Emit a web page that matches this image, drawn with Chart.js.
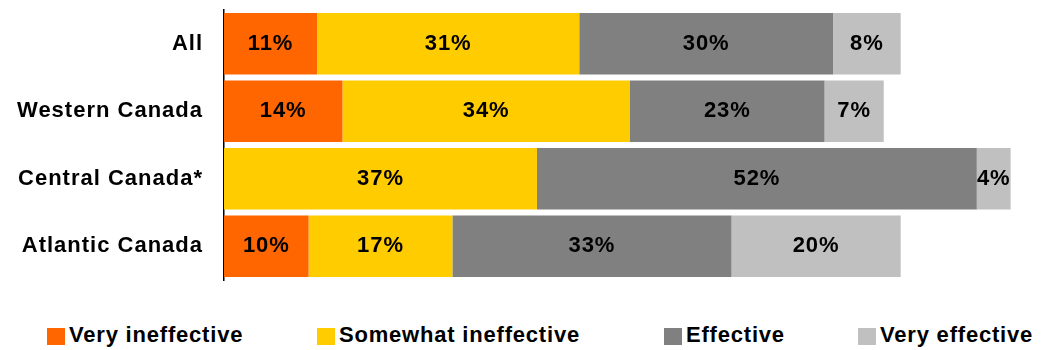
<!DOCTYPE html>
<html>
<head>
<meta charset="utf-8">
<script src="https://cdn.jsdelivr.net/npm/chart.js@4.4.1/dist/chart.umd.min.js"></script>
<style>
  html, body { margin: 0; padding: 0; background: #fff; }
  #wrap { position: relative; width: 1046px; height: 350px; }
  #chart { position: absolute; left: 0; top: 0; }
  #legend {
    position: absolute; left: 0; top: 324px; width: 1046px; height: 24px;
    font: bold 22px "Liberation Sans", Arial, sans-serif;
    letter-spacing: 0.8px; line-height: 22px; color: #000;
  }
  .item { position: absolute; top: 0; display: flex; align-items: center; white-space: nowrap; }
  .swatch { width: 18px; height: 17px; margin-right: 4px; margin-top: 3px; }
</style>
</head>
<body>
<div id="wrap">
  <canvas id="chart" width="1046" height="290"></canvas>
  <div id="legend"></div>
</div>
<script>
const categories = ['All', 'Western Canada', 'Central Canada*', 'Atlantic Canada'];
const seriesNames = ['Very ineffective', 'Somewhat ineffective', 'Effective', 'Very effective'];
const seriesColors = ['#FF6600', '#FFCC00', '#808080', '#C0C0C0'];
const veryIneffective = [11, 14, 0, 10];
const somewhatIneffective = [31, 34, 37, 17];
const effective = [30, 23, 52, 33];
const veryEffective = [8, 7, 4, 20];
const seriesValues = [veryIneffective, somewhatIneffective, effective, veryEffective];

// legend item left edges (layout only)
const legendLefts = [47, 317, 664, 858];

const FONT = '"Liberation Sans", Arial, sans-serif';

const spacing = {
  id: 'spacing',
  beforeDraw(chart) { chart.ctx.letterSpacing = '1px'; }
};

const barLabels = {
  id: 'barLabels',
  afterDatasetsDraw(chart) {
    const ctx = chart.ctx;
    ctx.save();
    ctx.letterSpacing = '0.9px';
    ctx.font = 'bold 22px ' + FONT;
    ctx.fillStyle = '#000';
    ctx.textAlign = 'center';
    ctx.textBaseline = 'alphabetic';
    chart.data.datasets.forEach((ds, i) => {
      chart.getDatasetMeta(i).data.forEach((bar, j) => {
        const v = ds.data[j];
        if (!v) return;
        const cx = (bar.x + bar.base) / 2;
        ctx.fillText(v + '%', cx, bar.y + 6);
      });
    });
    ctx.restore();
  }
};

new Chart(document.getElementById('chart'), {
  type: 'bar',
  data: {
    labels: categories,
    datasets: seriesNames.map((name, i) => ({
      label: name,
      data: seriesValues[i],
      backgroundColor: seriesColors[i],
      borderWidth: 0,
      barPercentage: 0.91,
      categoryPercentage: 1
    }))
  },
  options: {
    indexAxis: 'y',
    responsive: false,
    animation: false,
    layout: { padding: { top: 10, bottom: 10, right: 10, left: 0 } },
    plugins: { legend: { display: false }, tooltip: { enabled: false } },
    scales: {
      x: { stacked: true, display: false, min: 0, max: 96 },
      y: {
        stacked: true,
        afterFit(scale) {
          scale.width = 224;
          scale.paddingTop = 0;
          scale.paddingBottom = 0;
        },
        grid: { display: false, drawTicks: false },
        border: { display: true, color: '#000', width: 1.5 },
        ticks: { color: '#000', padding: 21, font: { family: FONT, size: 22, weight: 'bold' } }
      }
    }
  },
  plugins: [spacing, barLabels]
});

const legend = document.getElementById('legend');
seriesNames.forEach((name, i) => {
  const item = document.createElement('div');
  item.className = 'item';
  item.style.left = legendLefts[i] + 'px';
  const sw = document.createElement('span');
  sw.className = 'swatch';
  sw.style.background = seriesColors[i];
  const tx = document.createElement('span');
  tx.textContent = name;
  item.appendChild(sw);
  item.appendChild(tx);
  legend.appendChild(item);
});
</script>
</body>
</html>
